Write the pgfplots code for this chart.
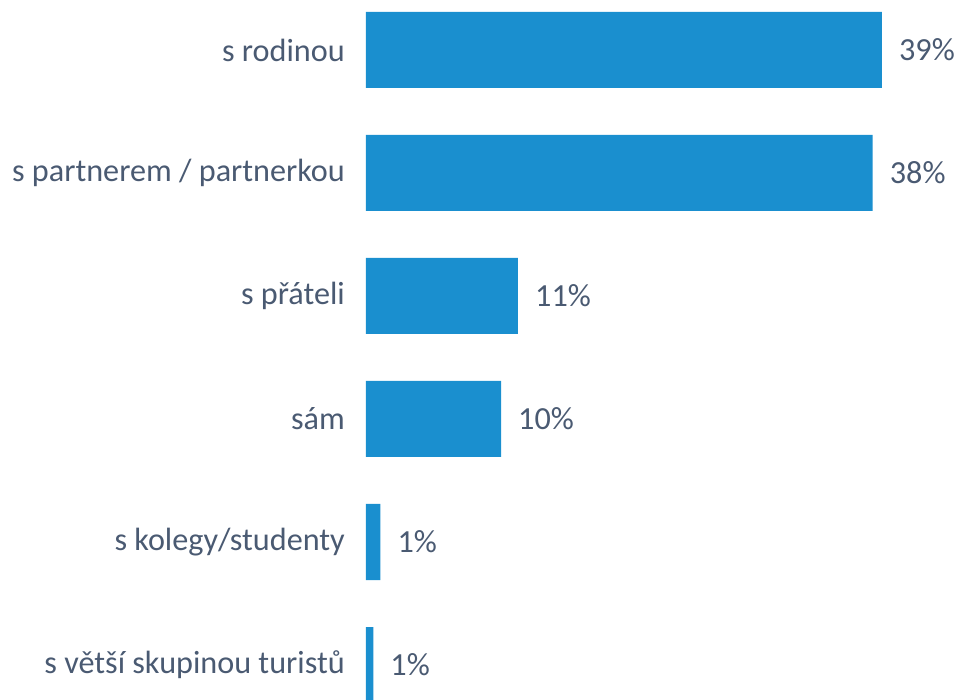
\documentclass[border=0pt]{standalone}
\usepackage{pgfplots}
\pgfplotsset{compat=1.18}
\usepackage{fontspec}
\setmainfont{Carlito}
\definecolor{barblue}{HTML}{1A8FCF}
\definecolor{txt}{HTML}{4A5A72}
\begin{document}
\begin{tikzpicture}
\path[use as bounding box] (0pt,0pt) rectangle (959pt,700pt);
\begin{axis}[
  at={(366pt,711.5pt)}, anchor=north west,
  scale only axis, width=593pt, height=738pt,
  xmin=0, xmax=44.755, ymin=-0.5, ymax=5.5, y dir=reverse,
  xbar, bar width=76pt,
  axis line style={draw=none},
  xtick=\empty, ytick={0,...,5},
  yticklabels={s rodinou, s partnerem / partnerkou, s přáteli, sám, s kolegy/studenty, s větší skupinou turistů},
  major tick length=0pt,
  yticklabel style={font=\fontsize{32.2}{38}\selectfont, text=txt, inner sep=0pt, anchor=east, xshift=-21pt},
  nodes near coords, point meta=explicit symbolic,
  nodes near coords style={font=\fontsize{32.2}{38}\selectfont, text=txt, anchor=west, inner sep=0pt, xshift=17pt},
  clip=false,
]
\addplot[fill=barblue, draw=none] coordinates {
(38.94,0) [39\%]
(38.24,1) [38\%]
(11.47,2) [11\%]
(10.19,3) [10\%]
(1.09,4) [1\%]
(0.55,5) [1\%]
};
\end{axis}
\end{tikzpicture}
\end{document}
